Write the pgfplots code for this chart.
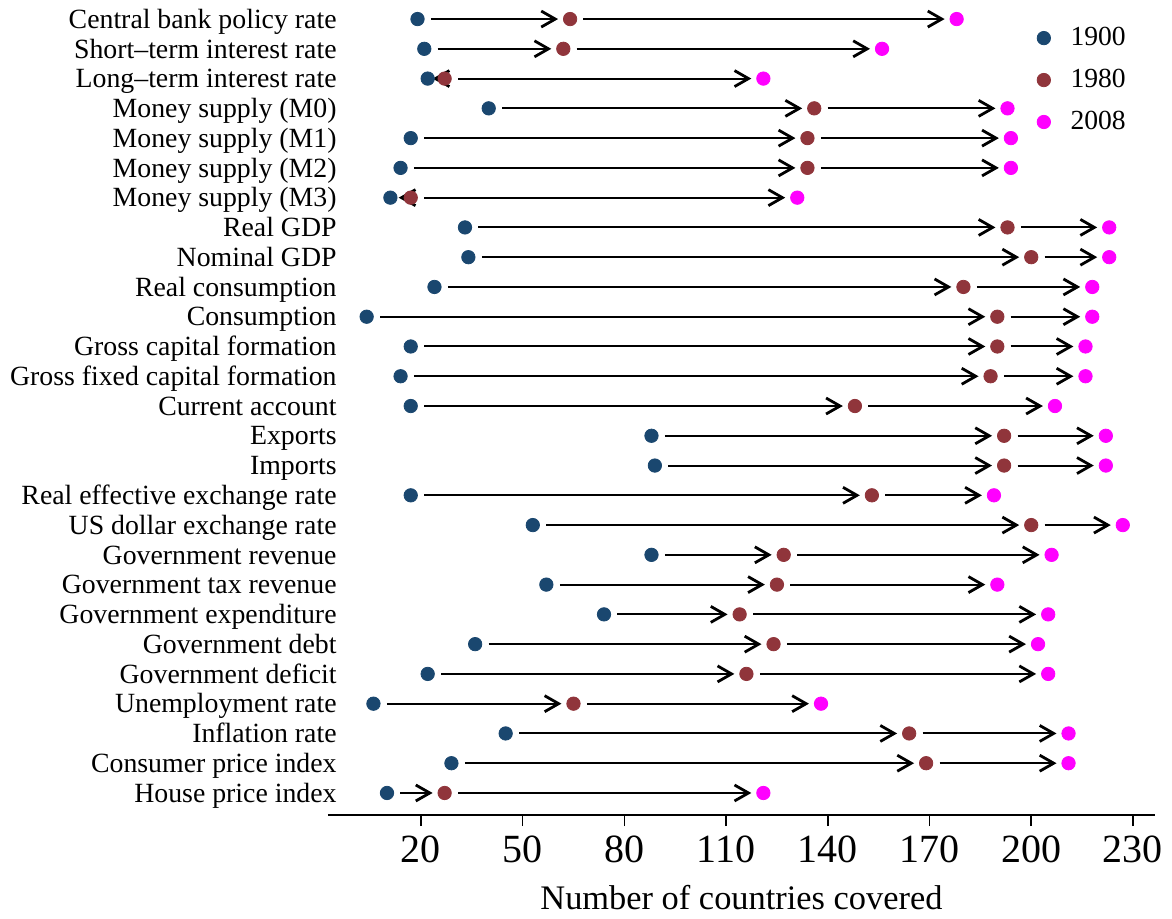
\documentclass[border=0pt]{standalone}
\usepackage{fontspec}
\setmainfont{Liberation Serif}
\usepackage{pgfplots}
\pgfplotsset{compat=1.18}
\usepackage{pgfplotstable}
\usetikzlibrary{arrows.meta}
\definecolor{c1900}{RGB}{26,71,111}
\definecolor{c1980}{RGB}{144,53,59}
\definecolor{c2008}{RGB}{255,0,255}
\pgfplotstableread{
y a b c
27 19 64 178
26 21 62 156
25 22 27 121
24 40 136 193
23 17 134 194
22 14 134 194
21 11 17 131
20 33 193 223
19 34 200 223
18 24 180 218
17 4 190 218
16 17 190 216
15 14 188 216
14 17 148 207
13 88 192 222
12 89 192 222
11 17 153 189
10 53 200 227
9 88 127 206
8 57 125 190
7 74 114 205
6 36 124 202
5 22 116 205
4 6 65 138
3 45 164 211
2 29 169 211
1 10 27 121
}\data
\begin{document}
\begin{tikzpicture}
\begin{axis}[
  at={(0,0)}, anchor=south west,
  scale only axis, width=413.5pt, height=407.5pt,
  xmin=-7.4, xmax=236.5, ymin=0.26, ymax=27.64,
  axis x line*=bottom, axis y line*=left,
  y axis line style={draw=none},
  x axis line style={line width=1.1pt},
  xtick={20,50,...,230},
  xtick style={line width=0.8pt, black},
  tick align=outside, major tick length=5.5pt,
  ytick={1,...,27}, ytick style={draw=none},
  yticklabels={House price index, Consumer price index, Inflation rate, Unemployment rate, Government deficit, Government debt, Government expenditure, Government tax revenue, Government revenue, US dollar exchange rate, Real effective exchange rate, Imports, Exports, Current account, Gross fixed capital formation, Gross capital formation, Consumption, Real consumption, Nominal GDP, Real GDP, Money supply (M3), Money supply (M2), Money supply (M1), Money supply (M0), Long\textendash term interest rate, Short\textendash term interest rate, Central bank policy rate},
  yticklabel style={font=\fontsize{13.9}{14}\selectfont, anchor=base east, inner sep=0pt, xshift=10pt, yshift=-4.6pt},
  xticklabel style={font=\fontsize{20}{20}\selectfont, anchor=base, inner sep=0pt, yshift=-18pt},
  /pgf/number format/assume math mode=true,
  xlabel={Number of countries covered},
  xlabel style={font=\fontsize{17.2}{17}\selectfont, at={(axis description cs:0.5,0)}, anchor=base, yshift=-47pt, inner sep=0pt},
  legend style={draw=none, fill=none, at={(axis description cs:0.857,0.9018)}, anchor=west, inner sep=0pt, row sep=10.3pt, column sep=10pt, font=\fontsize{13.8}{14}\selectfont, nodes={inner sep=0pt}},
  legend cell align=left,
  legend image code/.code={\draw[#1] plot coordinates {(0pt,0pt)};},
  clip=false,
]
\addplot[forget plot, line width=1pt, -{Straight Barb[length=7pt,width=8pt,line width=1.4pt]},
  quiver={u=\thisrow{b}-\thisrow{a}-7.5, v=0}] table[x expr=\thisrow{a}+3.95, y=y] {\data};
\addplot[forget plot, line width=1pt, -{Straight Barb[length=7pt,width=8pt,line width=1.4pt]},
  quiver={u=\thisrow{c}-\thisrow{b}-7.5, v=0}] table[x expr=\thisrow{b}+3.95, y=y] {\data};
\addplot[only marks, mark=*, mark size=3.35pt, color=c1900, fill=c1900] table[x=a, y=y] {\data};
\addlegendentry{1900}
\addplot[only marks, mark=*, mark size=3.35pt, color=c1980, fill=c1980] table[x=b, y=y] {\data};
\addlegendentry{1980}
\addplot[only marks, mark=*, mark size=3.35pt, color=c2008, fill=c2008] table[x=c, y=y] {\data};
\addlegendentry{2008}
\end{axis}
\pgfresetboundingbox
\path[use as bounding box] (-164pt,-51.5pt) rectangle (422pt,407.5pt);
\end{tikzpicture}
\end{document}
